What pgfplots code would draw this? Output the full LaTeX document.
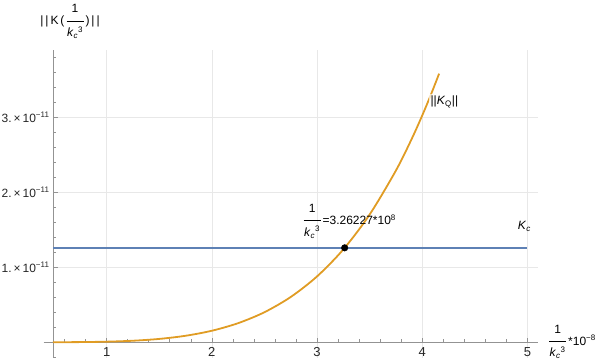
\documentclass[border=0pt]{standalone}
\usepackage{pgfplots}
\pgfplotsset{compat=1.18}
\usepackage{fontspec}
\setmainfont{Liberation Sans}
\definecolor{mblue}{rgb}{0.368,0.507,0.71}
\definecolor{morange}{rgb}{0.88,0.611,0.142}
\newcommand{\kf}{\begin{tabular}{@{}c@{}}1\\[-2.5pt]\rule[3pt]{17pt}{0.7pt}\\[-2pt]\textit{k}\textsubscript{\textit{c}}\textsuperscript{3}\end{tabular}}
\begin{document}
\begin{tikzpicture}
\begin{axis}[
  scale only axis, width=485pt, height=308pt,
  xmin=0.49, xmax=5.10, ymin=-0.21e-11, ymax=3.9e-11,
  scaled y ticks=false,
  axis x line=middle, axis y line=left,
  axis line style={draw=gray!85, line width=0.8pt, -},
  every inner x axis line/.append style={-},
  every outer y axis line/.append style={-},
  xtick={1,2,3,4,5}, xticklabels={1,2,3,4,5},
  minor xtick={0.6,0.8,1.2,1.4,1.6,1.8,2.2,2.4,2.6,2.8,3.2,3.4,3.6,3.8,4.2,4.4,4.6,4.8},
  ytick={1e-11,2e-11,3e-11},
  yticklabels={1.\,×\,10\textsuperscript{−11},2.\,×\,10\textsuperscript{−11},3.\,×\,10\textsuperscript{−11}},
  minor ytick={-0.2e-11,0.2e-11,0.4e-11,0.6e-11,0.8e-11,1.2e-11,1.4e-11,1.6e-11,1.8e-11,2.2e-11,2.4e-11,2.6e-11,2.8e-11,3.2e-11,3.4e-11,3.6e-11,3.8e-11},
  tick align=inside,
  major tick length=4.5pt, minor tick length=2.8pt,
  tick style={gray!85, line width=0.6pt},
  grid=major, major grid style={gray!18, line width=0.6pt},
  clip=false,
  ticklabel style={font=\fontsize{12}{14}\selectfont, text=black!85},
  xticklabel style={yshift=-2pt, font=\fontsize{13}{15}\selectfont},
  /pgf/number format/assume math mode=true,
]
\draw[gray!85, line width=0.8pt] (axis cs:0.40,0) -- (axis cs:0.49,0);
\addplot[mblue, line width=1.8pt] coordinates {(0.49,1.26e-11) (5.0,1.26e-11)};
\addplot[morange, line width=1.8pt, smooth] coordinates {
(0.49,0.00036e-11) (0.75,0.0023e-11) (1.0,0.0078e-11) (1.25,0.0204e-11)
(1.5,0.0446e-11) (1.75,0.0866e-11) (2.0,0.1537e-11) (2.25,0.255e-11)
(2.5,0.401e-11) (2.75,0.6046e-11) (3.0,0.879e-11) (3.25,1.2397e-11)
(3.5,1.705e-11) (3.75,2.293e-11) (3.9,2.715e-11) (4.0,3.028e-11)
(4.08,3.297e-11) (4.16,3.584e-11)};
\addplot[only marks, mark=*, mark size=3.3pt, black] coordinates {(3.26227,1.26e-11)};
\node[font=\fontsize{12}{14}\selectfont, anchor=west, inner sep=0pt] at (axis cs:2.87,1.61e-11) {\kf\,=3.26227*10\textsuperscript{8}};
\node[font=\fontsize{12}{14}\selectfont] at (axis cs:4.97,1.547e-11) {\textit{K}\textsubscript{\textit{c}}};
\node[font=\fontsize{12}{14}\selectfont, fill=white, fill opacity=0.7, text opacity=1, inner sep=2pt] at (axis cs:4.21,3.21e-11) {||\textit{K}\textsubscript{Q}||};
\node[font=\fontsize{12}{14}\selectfont, anchor=west, inner sep=0pt, xshift=11pt] at (axis cs:5.10,0) {\kf\,*10\textsuperscript{−8}};
\node[font=\fontsize{12}{14}\selectfont, inner sep=0pt, xshift=17pt, yshift=28pt] at (rel axis cs:0,1) {|\,|\,K\,(\,\kf\,)\,|\,|};
\end{axis}
\pgfresetboundingbox
\path[use as bounding box] ([xshift=-53pt,yshift=-5pt]current axis.south west) rectangle ++(599pt,363pt);
\end{tikzpicture}
\end{document}
